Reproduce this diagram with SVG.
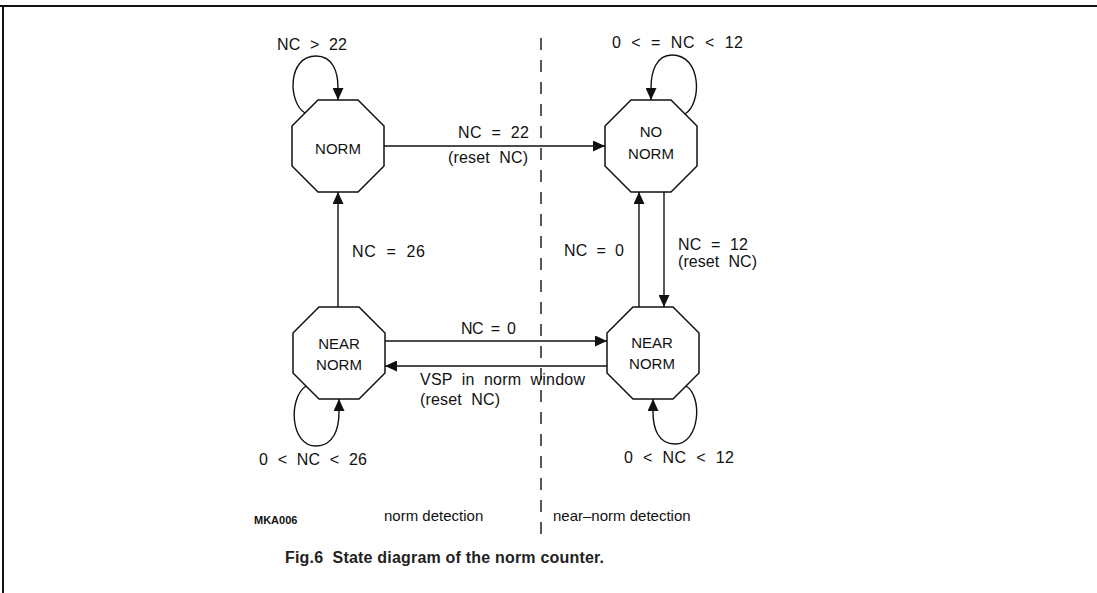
<svg xmlns="http://www.w3.org/2000/svg" width="1097" height="593" viewBox="0 0 1097 593">
<style>
text{font-family:"Liberation Sans",Arial,sans-serif;font-size:16px;fill:#111;white-space:pre}
.node path{fill:#fff;stroke:#111;stroke-width:1.5}
.node text{font-size:15px;text-anchor:middle}
.conn path,.conn line{fill:none;stroke:#111;stroke-width:1.4}
.small{font-size:11px;font-weight:bold}
.zone{font-size:15px}
.cap{font-size:16px;font-weight:bold;fill:#222}
</style>
<defs>
<marker id="ah" markerUnits="userSpaceOnUse" markerWidth="13" markerHeight="11" refX="12" refY="5.5" orient="auto">
<path d="M0,0 L12,5.5 L0,11 Z" fill="#111"/>
</marker>
</defs>
<rect x="0" y="0" width="1097" height="593" fill="#fff"/>
<g id="frame">
<line x1="0" y1="6" x2="1097" y2="6" stroke="#111" stroke-width="2"/>
<line x1="3" y1="6" x2="3" y2="593" stroke="#111" stroke-width="2"/>
<line x1="541" y1="38" x2="541" y2="544" stroke="#111" stroke-width="1.4" stroke-dasharray="12 10"/>
</g>
<g class="conn" id="connectors">
<line x1="384" y1="146" x2="605" y2="146" marker-end="url(#ah)"/>
<line x1="338" y1="307" x2="338" y2="192" marker-end="url(#ah)"/>
<line x1="385" y1="341" x2="607" y2="341" marker-end="url(#ah)"/>
<line x1="607" y1="366" x2="385" y2="366" marker-end="url(#ah)"/>
<line x1="639" y1="307" x2="639" y2="192" marker-end="url(#ah)"/>
<line x1="664" y1="192" x2="664" y2="307" marker-end="url(#ah)"/>
<path d="M305,113 C288,103 287,56 316,56 C333,56 338,72 338,88 L338,100" marker-end="url(#ah)"/>
<path d="M685,114 C702,104 702,55 672,55 C656,55 651,72 651,88 L651,100" marker-end="url(#ah)"/>
<path d="M306,386 C288,398 290,446 316,446 C334,446 339,428 339,412 L339,399" marker-end="url(#ah)"/>
<path d="M686,386 C703,396 700,444 675,444 C658,444 653,428 653,412 L653,399" marker-end="url(#ah)"/>
</g>
<g class="node" id="norm">
<path d="M318,100 H358 L384,126 V166 L358,192 H318 L292,166 V126 Z"/>
<text x="338" y="154">NORM</text>
</g>
<g class="node" id="nonorm">
<path d="M631,100 H671 L697,126 V166 L671,192 H631 L605,166 V126 Z"/>
<text x="651" y="137">NO</text>
<text x="651" y="159">NORM</text>
</g>
<g class="node" id="nearnorm-left">
<path d="M319,307 H359 L385,333 V373 L359,399 H319 L293,373 V333 Z"/>
<text x="339" y="349">NEAR</text>
<text x="339" y="370">NORM</text>
</g>
<g class="node" id="nearnorm-right">
<path d="M633,307 H673 L699,333 V373 L673,399 H633 L607,373 V333 Z"/>
<text x="652" y="348">NEAR</text>
<text x="652" y="369">NORM</text>
</g>
<g id="labels">
<text x="277" y="50" textLength="70" lengthAdjust="spacing">NC  &gt;  22</text>
<text x="612" y="48" textLength="131" lengthAdjust="spacing">0  &lt;  =  NC  &lt;  12</text>
<text x="458" y="138" textLength="71" lengthAdjust="spacing">NC  =  22</text>
<text x="448" y="163" textLength="80" lengthAdjust="spacing">(reset  NC)</text>
<text x="352" y="257" textLength="73" lengthAdjust="spacing">NC  =  26</text>
<text x="564" y="256" textLength="60" lengthAdjust="spacing">NC  =  0</text>
<text x="678" y="250" textLength="70" lengthAdjust="spacing">NC  =  12</text>
<text x="678" y="267" textLength="79" lengthAdjust="spacing">(reset  NC)</text>
<text x="461" y="334" textLength="55" lengthAdjust="spacing">NC  =  0</text>
<text x="420" y="385" textLength="165" lengthAdjust="spacing">VSP  in  norm  window</text>
<text x="420" y="405" textLength="80" lengthAdjust="spacing">(reset  NC)</text>
<text x="259" y="465" textLength="108" lengthAdjust="spacing">0  &lt;  NC  &lt;  26</text>
<text x="624" y="463" textLength="110" lengthAdjust="spacing">0  &lt;  NC  &lt;  12</text>
<text class="small" x="254" y="524">MKA006</text>
<text class="zone" x="384" y="521">norm detection</text>
<text class="zone" x="553" y="521">near–norm detection</text>
<text class="cap" x="285" y="563" textLength="319" lengthAdjust="spacing">Fig.6  State diagram of the norm counter.</text>
</g>
</svg>
